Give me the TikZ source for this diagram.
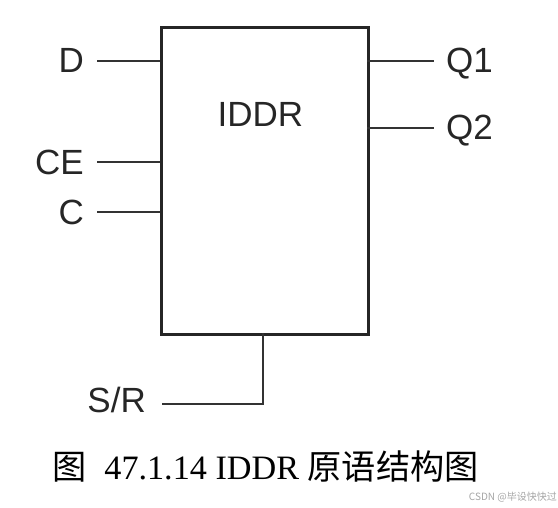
\documentclass[tikz,border=0pt]{standalone}
\usepackage{fontspec}
\setmainfont{Liberation Serif}
\newfontfamily\lab{Liberation Sans}
\newfontfamily\cjk{Noto Sans CJK SC}
\begin{document}
\begin{tikzpicture}[x=1pt,y=-1pt,
  blk/.style={draw=black!85,line width=3pt},
  wire/.style={draw=black!80,line width=1.6pt},
  pin/.style={font=\lab\fontsize{35}{35}\selectfont,text=black!85,inner sep=0pt}]
\useasboundingbox[fill=white] (0,0) rectangle (558,508);
\node[blk,minimum width=207pt,minimum height=307pt,inner sep=0pt,anchor=north west] (box) at (160,26) {};
\node[pin,anchor=base] (title) at (260.5,127) {IDDR};
% inputs
\coordinate (dE) at (160,61);
\coordinate (ceE) at (160,162);
\coordinate (cE) at (160,212);
\coordinate (dS) at (97,61);
\coordinate (ceS) at (97,162);
\coordinate (cS) at (97,212);
\node[pin,anchor=base east] (D) at (84,72.5) {D};
\node[pin,anchor=base east] (CE) at (84,175) {CE};
\node[pin,anchor=base east] (C) at (84,225) {C};
\draw[wire] (dS) -- (dE);
\draw[wire] (ceS) -- (ceE);
\draw[wire] (cS) -- (cE);
% outputs
\coordinate (q1E) at (367,61);
\coordinate (q2E) at (367,128);
\coordinate (q1S) at (434,61);
\coordinate (q2S) at (434,128);
\node[pin,anchor=base west] (Q1) at (446,72.5) {Q1};
\node[pin,anchor=base west] (Q2) at (446,140) {Q2};
\draw[wire] (q1E) -- (q1S);
\draw[wire] (q2E) -- (q2S);
% S/R
\coordinate (srT) at (263,333);
\coordinate (srE) at (162,404);
\node[pin,anchor=base east] (SR) at (146,413) {S/R};
\draw[wire] (srT) |- (srE);
% caption
\node[inner sep=0pt,anchor=west,font=\fontsize{34.2}{34.2}\selectfont] (cap) at (52,467) {{\cjk 图}\hspace{18pt}47.1.14 IDDR {\cjk 原语结构图}};
\node[inner sep=0pt,anchor=east,text=black!35,font=\cjk\fontsize{10}{10}\selectfont] (wm) at (557,497) {CSDN @毕设快快过};
\end{tikzpicture}
\end{document}
